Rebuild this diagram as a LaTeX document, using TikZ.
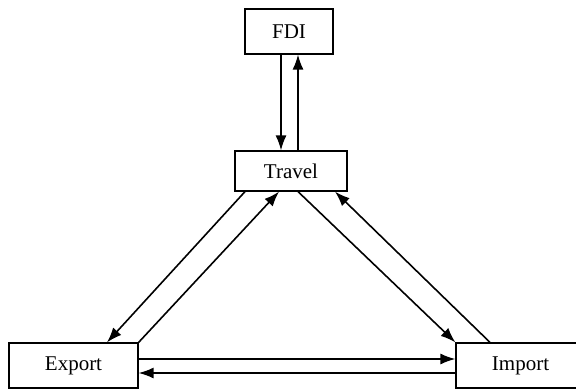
\documentclass[tikz,border=0pt]{standalone}
\usepackage{fontspec}
\setmainfont{Liberation Serif}
\usetikzlibrary{arrows.meta}

\begin{document}
\begin{tikzpicture}[x=0.5pt,y=-0.5pt,font=\fontsize{10.5}{12}\selectfont]
				\tikzstyle{box}=[draw=black,line width=0.6pt,inner sep=0pt,minimum height=22.5pt]
				\tikzstyle{flow}=[line width=0.8pt,-{Latex[length=7.5pt,width=5.5pt]}]
				\clip (0,0) rectangle (576,389);
				\useasboundingbox (0,0) rectangle (576,389);
				\node[box,minimum width=44pt](fdi) at (289,31.5){FDI};
				\node[box,minimum width=56pt,minimum height=20pt](travel) at (291,171){Travel};
				\node[box,minimum width=64.5pt](export) at (73.5,365.5){Export};
				\node[box,minimum width=64.5pt](import) at (520.5,365.5){Import};
				\draw[flow] ([xshift=-4pt]fdi.south) -- ([xshift=-5pt]travel.north);
				\draw[flow] ([xshift=3.5pt]travel.north) -- ([xshift=4.5pt]fdi.south);
				\draw[flow] ([xshift=-23pt]travel.south) -- ([xshift=16.75pt]export.north);
				\draw[flow] (export.north east) -- ([xshift=-6pt]travel.south);
				\draw[flow] ([xshift=3.5pt]travel.south) -- (import.north west);
				\draw[flow] ([xshift=-15.25pt]import.north) -- ([xshift=22pt]travel.south);
				\draw[flow] ([yshift=3.25pt]export.east) -- ([yshift=3.25pt]import.west);
				\draw[flow] ([yshift=-3.75pt]import.west) -- ([yshift=-3.75pt]export.east);
			\end{tikzpicture}
\end{document}
